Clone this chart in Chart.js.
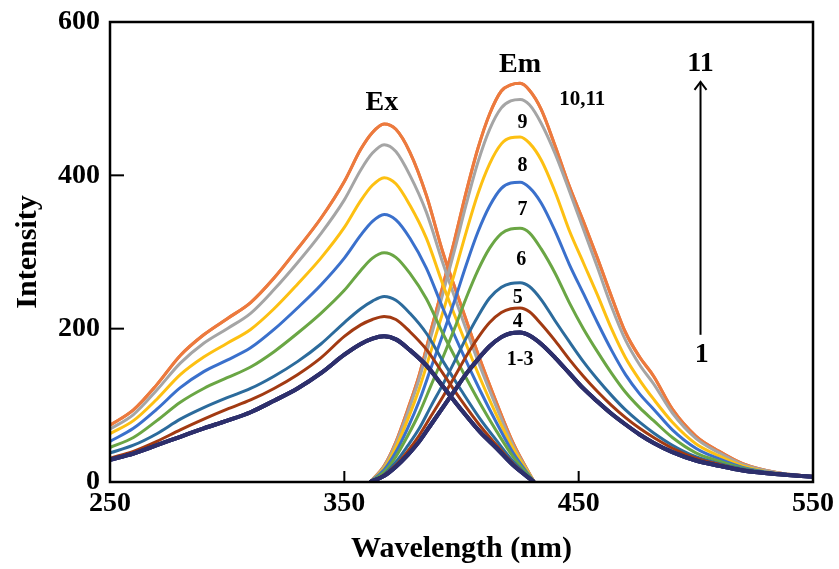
<!DOCTYPE html>
<html>
<head>
<meta charset="utf-8">
<script src="https://cdn.jsdelivr.net/npm/chart.js@4.4.1/dist/chart.umd.min.js"></script>
<style>
    html, body { margin: 0; padding: 0; background: #fff; }
    #contenedor { width: 839px; height: 569px; position: relative; }
</style>
</head>
<body>
<div id="contenedor"><canvas id="chartEspectros"></canvas></div>
<script>
// Longitudes de onda (nm)
const exWavelength = [250, 260, 270, 280, 290, 300, 310, 320, 330, 340, 350, 357, 362, 367, 372, 378, 385, 392, 400, 408, 415, 422, 431];
const emWavelength = [361, 367, 372, 377, 382, 387, 392, 397, 402, 407, 412, 417, 421, 425, 429, 434, 440, 446, 452, 458, 464, 470, 476, 482, 490, 500, 510, 520, 535, 550];

// Excitacion (Ex)
const ex1to3 = [29, 37, 48, 59, 70, 80, 91, 106, 122, 142, 166, 180, 187, 190, 186, 172, 152, 125, 94, 65, 44, 22, 0];
const ex4 = [31, 40, 53, 68, 82, 95, 107, 122, 140, 162, 190, 205, 212, 216, 212, 196, 173, 142, 106, 73, 48, 24, 0];
const ex5 = [38, 48, 63, 82, 97, 110, 122, 138, 157, 180, 208, 226, 236, 242, 237, 220, 194, 158, 119, 82, 54, 27, 0];
const ex6 = [45, 58, 80, 104, 122, 136, 150, 170, 194, 220, 250, 276, 292, 299, 293, 272, 239, 194, 147, 102, 66, 33, 0];
const ex7 = [53, 70, 95, 123, 144, 159, 175, 199, 227, 257, 292, 322, 340, 349, 342, 318, 279, 227, 171, 119, 77, 38, 0];
const ex8 = [63, 80, 108, 140, 163, 181, 199, 226, 258, 292, 332, 367, 387, 397, 389, 361, 318, 258, 195, 135, 87, 44, 0];
const ex9 = [69, 88, 120, 155, 181, 200, 220, 251, 286, 324, 368, 407, 429, 440, 431, 400, 352, 286, 216, 150, 97, 48, 0];
const ex10to11 = [74, 94, 127, 165, 192, 213, 234, 266, 304, 344, 392, 434, 456, 467, 460, 430, 374, 300, 229, 159, 103, 51, 0];

// Emision (Em)
const em1to3 = [0, 8, 20, 35, 53, 75, 97, 119, 141, 160, 177, 189, 194, 195, 191, 180, 162, 142, 122, 105, 89, 75, 62, 51, 39, 28, 21, 15, 10, 7];
const em4 = [0, 9, 22, 40, 61, 86, 111, 137, 164, 188, 208, 221, 226, 227, 222, 206, 184, 160, 138, 118, 100, 84, 70, 58, 44, 31, 23, 16, 10, 7];
const em5 = [0, 10, 26, 47, 70, 99, 127, 157, 188, 216, 240, 254, 259, 260, 255, 238, 210, 183, 157, 134, 113, 94, 78, 64, 48, 33, 24, 17, 10, 7];
const em6 = [0, 13, 33, 60, 90, 126, 162, 200, 240, 276, 305, 324, 330, 331, 325, 304, 272, 234, 200, 170, 142, 117, 97, 80, 58, 38, 27, 18, 10, 7];
const em7 = [0, 16, 39, 70, 106, 149, 192, 236, 283, 326, 360, 383, 390, 391, 384, 364, 327, 284, 246, 208, 172, 140, 115, 95, 68, 44, 30, 19, 11, 7];
const em8 = [0, 18, 45, 81, 122, 171, 221, 272, 326, 376, 415, 441, 449, 450, 442, 420, 378, 328, 286, 244, 200, 162, 133, 108, 78, 50, 34, 21, 11, 7];
const em9 = [0, 20, 50, 90, 135, 190, 245, 302, 362, 417, 460, 488, 497, 499, 492, 468, 428, 380, 330, 280, 229, 185, 153, 128, 90, 57, 38, 23, 12, 7];
const em10to11 = [0, 21, 52, 94, 140, 198, 255, 315, 378, 435, 480, 510, 518, 520, 511, 486, 438, 386, 340, 292, 242, 195, 163, 138, 95, 60, 40, 24, 12, 7];

// Ticks de los ejes
const xTicks = [250, 350, 450, 550];
const yTicks = [0, 200, 400, 600];
const xTicksInternos = [350, 450];
const yTicksInternos = [200, 400];

// Curvas 1..11 (1-3 y 10-11 coinciden)
const curvas = [
    { n: 1, ex: ex1to3, em: em1to3, color: '#2d2f6c', ancho: 4 },
    { n: 2, ex: ex1to3, em: em1to3, color: '#2d2f6c', ancho: 4 },
    { n: 3, ex: ex1to3, em: em1to3, color: '#2d2f6c', ancho: 4 },
    { n: 4, ex: ex4, em: em4, color: '#a23a12', ancho: 3 },
    { n: 5, ex: ex5, em: em5, color: '#2c6b9c', ancho: 3 },
    { n: 6, ex: ex6, em: em6, color: '#6aa644', ancho: 3 },
    { n: 7, ex: ex7, em: em7, color: '#3a70cc', ancho: 3 },
    { n: 8, ex: ex8, em: em8, color: '#fdc012', ancho: 3 },
    { n: 9, ex: ex9, em: em9, color: '#a5a5a5', ancho: 3 },
    { n: 10, ex: ex10to11, em: em10to11, color: '#ec7a3e', ancho: 3 },
    { n: 11, ex: ex10to11, em: em10to11, color: '#ec7a3e', ancho: 3 }
];

// Textos sobre el grafico (en coordenadas de datos)
const etiquetas = [
    { texto: 'Ex', x: 366, y: 495, size: 28 },
    { texto: 'Em', x: 425, y: 544, size: 28 },
    { texto: '10,11', x: 451.5, y: 499, size: 21 },
    { texto: '9', x: 426, y: 469, size: 20 },
    { texto: '8', x: 426, y: 413, size: 20 },
    { texto: '7', x: 426, y: 355, size: 20 },
    { texto: '6', x: 425.5, y: 290, size: 20 },
    { texto: '5', x: 424, y: 240, size: 20 },
    { texto: '4', x: 424, y: 209, size: 20 },
    { texto: '1-3', x: 425, y: 159, size: 20 },
    { texto: '11', x: 502, y: 546, size: 28 },
    { texto: '1', x: 502.5, y: 166, size: 28 }
];

const fuente = "'Liberation Serif', 'Times New Roman', serif";

const datasets = [];
curvas.forEach(c => {
    datasets.push({
        label: 'Ex ' + c.n,
        data: exWavelength.map((w, i) => ({ x: w, y: c.ex[i] })),
        borderColor: c.color,
        borderWidth: c.ancho,
        pointRadius: 0,
        cubicInterpolationMode: 'monotone',
        fill: false
    });
    datasets.push({
        label: 'Em ' + c.n,
        data: emWavelength.map((w, i) => ({ x: w, y: c.em[i] })),
        borderColor: c.color,
        borderWidth: c.ancho,
        pointRadius: 0,
        cubicInterpolationMode: 'monotone',
        fill: false
    });
});

const pluginMarco = {
    id: 'marco',
    afterDraw(chart) {
        const ctx = chart.ctx;
        const a = chart.chartArea;
        const xs = chart.scales.x;
        const ys = chart.scales.y;
        ctx.save();
        ctx.strokeStyle = '#000';
        ctx.lineWidth = 2.5;
        ctx.strokeRect(a.left, a.top, a.right - a.left, a.bottom - a.top);

        // ticks hacia adentro
        ctx.lineWidth = 2;
        yTicksInternos.forEach(v => {
            const py = ys.getPixelForValue(v);
            ctx.beginPath();
            ctx.moveTo(a.left, py);
            ctx.lineTo(a.left + 14, py);
            ctx.stroke();
        });
        xTicksInternos.forEach(v => {
            const px = xs.getPixelForValue(v);
            ctx.beginPath();
            ctx.moveTo(px, a.bottom);
            ctx.lineTo(px, a.bottom - 11);
            ctx.stroke();
        });

        // etiquetas
        ctx.fillStyle = '#000';
        ctx.textAlign = 'center';
        ctx.textBaseline = 'middle';
        etiquetas.forEach(e => {
            ctx.font = 'bold ' + e.size + 'px ' + fuente;
            ctx.fillText(e.texto, xs.getPixelForValue(e.x), ys.getPixelForValue(e.y));
        });

        // flecha de 1 a 11
        const fx = xs.getPixelForValue(502);
        const yIni = ys.getPixelForValue(192);
        const yFin = ys.getPixelForValue(522);
        ctx.lineWidth = 2;
        ctx.beginPath();
        ctx.moveTo(fx, yIni);
        ctx.lineTo(fx, yFin);
        ctx.stroke();
        ctx.beginPath();
        ctx.moveTo(fx - 6, yFin + 8);
        ctx.lineTo(fx, yFin);
        ctx.lineTo(fx + 6, yFin + 8);
        ctx.stroke();
        ctx.restore();
    }
};

new Chart(document.getElementById('chartEspectros'), {
    type: 'line',
    data: { datasets: datasets },
    options: {
        responsive: true,
        maintainAspectRatio: false,
        animation: false,
        layout: {
            padding: { top: 22, right: 25, left: 0, bottom: 0 }
        },
        plugins: {
            legend: { display: false },
            tooltip: { enabled: false }
        },
        scales: {
            x: {
                type: 'linear',
                min: 250,
                max: 550,
                grid: { display: false, drawTicks: false },
                border: { display: false },
                afterBuildTicks: s => { s.ticks = xTicks.map(v => ({ value: v })); },
                afterFit: s => { s.height = 87; },
                ticks: {
                    color: '#000',
                    padding: 5,
                    maxRotation: 0,
                    font: { family: fuente, size: 28, weight: 'bold' }
                },
                title: {
                    display: true,
                    text: 'Wavelength (nm)',
                    color: '#000',
                    padding: { top: 0, bottom: 2 },
                    font: { family: fuente, size: 30, weight: 'bold' }
                }
            },
            y: {
                type: 'linear',
                min: 0,
                max: 600,
                grid: { display: false, drawTicks: false },
                border: { display: false },
                afterBuildTicks: s => { s.ticks = yTicks.map(v => ({ value: v })); },
                afterFit: s => { s.width = 110; },
                ticks: {
                    color: '#000',
                    padding: 10,
                    font: { family: fuente, size: 28, weight: 'bold', lineHeight: 0.8 }
                },
                title: {
                    display: true,
                    text: 'Intensity',
                    color: '#000',
                    padding: { top: 10, bottom: 0 },
                    font: { family: fuente, size: 30, weight: 'bold' }
                }
            }
        }
    },
    plugins: [pluginMarco]
});
</script>
</body>
</html>
